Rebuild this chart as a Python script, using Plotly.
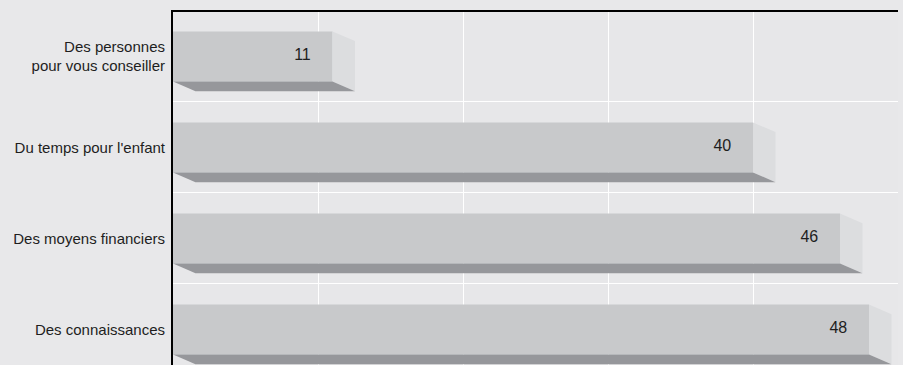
import plotly.graph_objects as go

categories = [
    "Des personnes<br>pour vous conseiller",
    "Du temps pour l'enfant",
    "Des moyens financiers",
    "Des connaissances",
]
values = [11, 40, 46, 48]
value_labels = ["11", "40", "46", "48"]

# style constants
BG = "#e7e7e9"
FRONT = "#c8c9cb"
BOTTOM = "#96979b"
SIDE = "#dcdddf"
TEXT = "#1e1e1e"
FONT = "Liberation Sans, Arial, sans-serif"
BAR_W = 0.55      # bar thickness in category units
DX = 1.55         # depth offset along x (value units)
DY = 0.107        # depth offset along y (category units)
LABEL_GAP = 1.5   # value label offset from bar end (value units)

fig = go.Figure()

fig.add_trace(go.Bar(
    x=values, y=categories, orientation="h",
    width=BAR_W,
    marker=dict(color=FRONT, line=dict(width=0)),
    hoverinfo="skip",
))

fig.add_trace(go.Scatter(
    x=[v - LABEL_GAP for v in values], y=categories,
    mode="text", text=value_labels, textposition="middle left",
    textfont=dict(family=FONT, size=16, color=TEXT),
    hoverinfo="skip",
))

shapes = []
for i, v in enumerate(values):
    top = i - BAR_W / 2
    bot = i + BAR_W / 2
    shapes.append(dict(
        type="path", xref="x", yref="y", layer="above",
        path=f"M {v},{top} L {v+DX},{top+DY} L {v+DX},{bot+DY} L {v},{bot} Z",
        fillcolor=SIDE, line=dict(width=0),
    ))
    shapes.append(dict(
        type="path", xref="x", yref="y", layer="above",
        path=f"M 0,{bot} L {v},{bot} L {v+DX},{bot+DY} L {DX},{bot+DY} Z",
        fillcolor=BOTTOM, line=dict(width=0),
    ))

fig.update_layout(
    width=903, height=365,
    margin=dict(l=173, r=5, t=12, b=0),
    paper_bgcolor="#e8e8ea",
    plot_bgcolor=BG,
    showlegend=False,
    shapes=shapes,
    font=dict(family=FONT, size=15, color=TEXT),
    xaxis=dict(
        range=[0, 50], dtick=10, side="top",
        showgrid=True, gridcolor="white", gridwidth=1,
        showticklabels=False, ticks="", zeroline=False,
        showline=True, linecolor="black", linewidth=2,
        fixedrange=True, automargin=False,
    ),
    yaxis=dict(
        type="category",
        range=[3.391, -0.488],
        tickson="boundaries",
        showgrid=True, gridcolor="white", gridwidth=1,
        ticks="", ticklabelstandoff=3,
        showline=True, linecolor="black", linewidth=2,
        tickfont=dict(family=FONT, size=15, color=TEXT),
        fixedrange=True, automargin=False,
    ),
)

fig.write_html(
    "out.html",
    config={"displayModeBar": False},
    post_script="document.body.style.margin='0';document.body.style.overflow='hidden';",
)
